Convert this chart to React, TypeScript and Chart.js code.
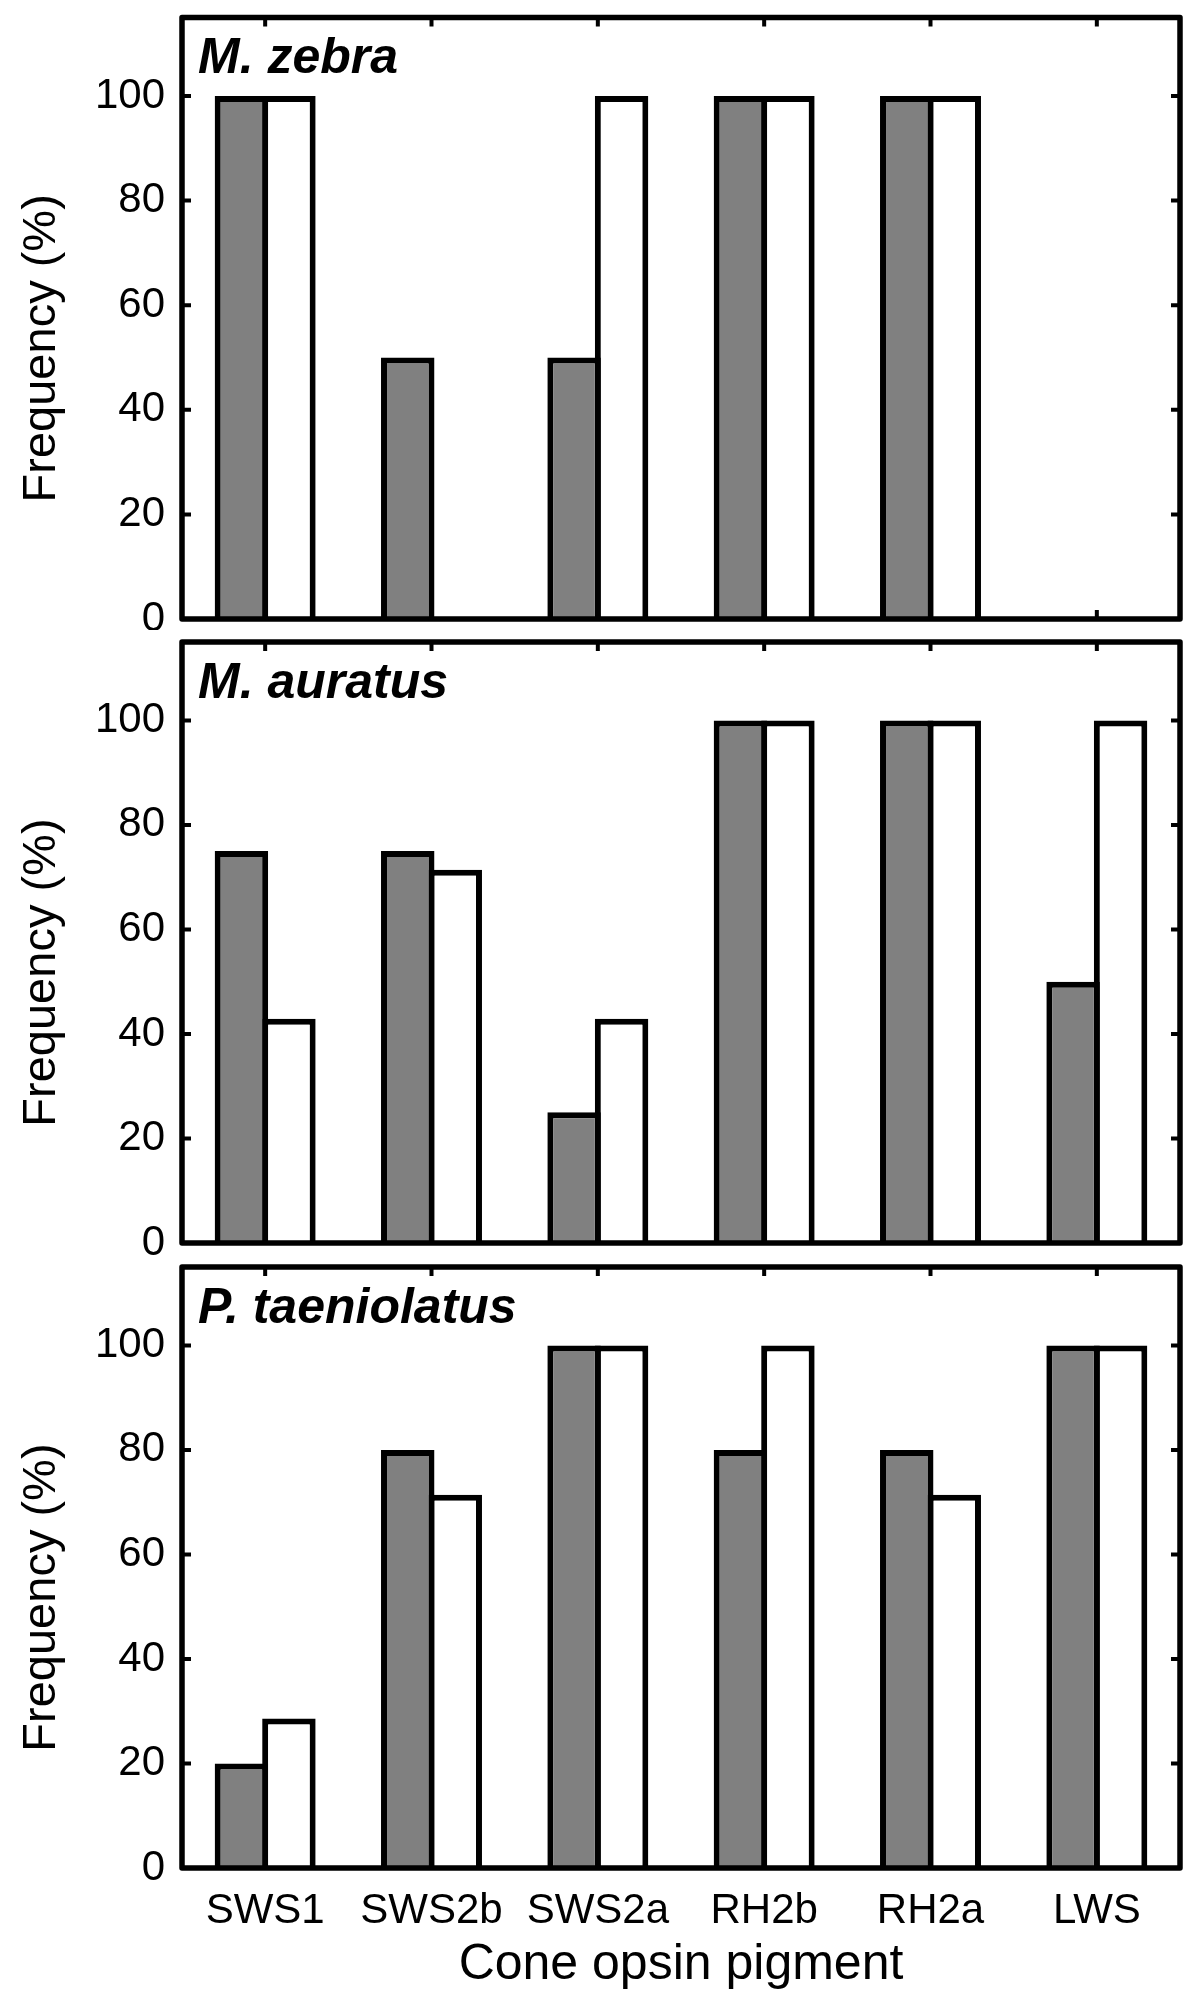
import React, { useEffect, useRef } from 'react';
import { Chart, registerables } from 'chart.js';

Chart.register(...registerables);

const categories = ['SWS1', 'SWS2b', 'SWS2a', 'RH2b', 'RH2a', 'LWS'];
const speciesNames = ['M. zebra', 'M. auratus', 'P. taeniolatus'];
const zebraGray = [100, 50, 50, 100, 100, 0];
const zebraWhite = [100, 0, 100, 100, 100, 0];
const auratusGray = [75, 75, 25, 100, 100, 50];
const auratusWhite = [42.9, 71.4, 42.9, 100, 100, 100];
const taeniolatusGray = [20, 80, 100, 80, 80, 100];
const taeniolatusWhite = [28.6, 71.4, 100, 100, 71.4, 100];
const yTicks = [0, 20, 40, 60, 80, 100];
const yMax = 115;
const yTitle = 'Frequency (%)';
const xTitle = 'Cone opsin pigment';

const FAMILY = "'Liberation Sans', Arial, Helvetica, sans-serif";

type PanelCfg = {
  name: string;
  gray: number[];
  white: number[];
  canvasTop: number;
  canvasHeight: number;
  padTop: number;
  padBottom: number;
  showX: boolean;
};

const panels: PanelCfg[] = [
  { name: speciesNames[0], gray: zebraGray, white: zebraWhite, canvasTop: 0, canvasHeight: 630, padTop: 17.5, padBottom: 11, showX: false },
  { name: speciesNames[1], gray: auratusGray, white: auratusWhite, canvasTop: 630, canvasHeight: 625, padTop: 12, padBottom: 12, showX: false },
  { name: speciesNames[2], gray: taeniolatusGray, white: taeniolatusWhite, canvasTop: 1255, canvasHeight: 750, padTop: 12, padBottom: 0, showX: true },
];

function makeFramePlugin(name: string) {
  return {
    id: 'frame',
    afterDatasetsDraw(chart: any) {
      const { ctx, chartArea } = chart;
      const { left, top, right, bottom } = chartArea;
      const x = chart.scales.x;
      const y = chart.scales.y;
      ctx.save();
      ctx.strokeStyle = '#000';
      ctx.lineCap = 'butt';
      ctx.lineWidth = 4;
      ctx.beginPath();
      for (const v of yTicks) {
        const py = y.getPixelForValue(v);
        ctx.moveTo(left, py);
        ctx.lineTo(left + 9, py);
        ctx.moveTo(right - 9, py);
        ctx.lineTo(right, py);
      }
      for (let i = 0; i < categories.length; i++) {
        const px = x.getPixelForValue(i);
        ctx.moveTo(px, top);
        ctx.lineTo(px, top + 9);
        ctx.moveTo(px, bottom);
        ctx.lineTo(px, bottom - 9);
      }
      ctx.stroke();
      ctx.lineWidth = 5.5;
      ctx.lineJoin = 'round';
      ctx.strokeRect(left, top, right - left, bottom - top);

      ctx.fillStyle = '#000';
      ctx.font = `italic bold 50px ${FAMILY}`;
      ctx.textAlign = 'left';
      ctx.textBaseline = 'alphabetic';
      ctx.fillText(name, left + 16, top + 55.5);

      ctx.translate(55, top + 0.55 * (bottom - top));
      ctx.rotate(-Math.PI / 2);
      ctx.font = `47px ${FAMILY}`;
      ctx.textAlign = 'center';
      ctx.fillText(yTitle, 0, 0);
      ctx.restore();
    },
  };
}

function Panel({ cfg }: { cfg: PanelCfg }) {
  const ref = useRef<HTMLCanvasElement | null>(null);
  useEffect(() => {
    if (!ref.current) return;
    const chart = new Chart(ref.current, {
      type: 'bar',
      data: {
        labels: categories,
        datasets: [
          {
            data: cfg.gray,
            backgroundColor: '#808080',
            borderColor: '#000',
            borderWidth: 6,
            categoryPercentage: 0.571,
            barPercentage: 1.126,
          },
          {
            data: cfg.white,
            backgroundColor: '#ffffff',
            borderColor: '#000',
            borderWidth: 6,
            categoryPercentage: 0.571,
            barPercentage: 1.126,
          },
        ],
      },
      options: {
        animation: false,
        responsive: false,
        devicePixelRatio: 1,
        layout: { padding: { top: cfg.padTop, bottom: cfg.padBottom, left: 0, right: 20 } },
        plugins: {
          legend: { display: false },
          tooltip: { enabled: false },
          title: { display: false },
        },
        scales: {
          x: {
            display: cfg.showX,
            offset: true,
            grid: { display: false, drawTicks: false },
            border: { display: false },
            ticks: {
              padding: 18,
              color: '#000',
              font: { size: 42, family: FAMILY },
              maxRotation: 0,
              autoSkip: false,
            },
            title: {
              display: cfg.showX,
              text: xTitle,
              color: '#000',
              font: { size: 50, family: FAMILY },
              padding: { top: 0, bottom: 10 },
            },
            afterFit: (s: any) => {
              if (cfg.showX) s.height = 137;
              s.paddingLeft = 0;
              s.paddingRight = 0;
            },
          },
          y: {
            min: 0,
            max: yMax,
            grid: { display: false, drawTicks: false },
            border: { display: false },
            ticks: {
              padding: 17,
              color: '#000',
              font: { size: 42, family: FAMILY },
            },
            afterBuildTicks: (s: any) => {
              s.ticks = yTicks.map((v) => ({ value: v }));
            },
            afterFit: (s: any) => {
              s.width = 182;
              s.paddingTop = 0;
              s.paddingBottom = 0;
            },
          },
        },
      },
      plugins: [makeFramePlugin(cfg.name)],
    } as any);
    return () => chart.destroy();
  }, [cfg]);
  return (
    <canvas
      ref={ref}
      width={1200}
      height={cfg.canvasHeight}
      style={{ position: 'absolute', left: 0, top: cfg.canvasTop, width: 1200, height: cfg.canvasHeight }}
    />
  );
}

export default function App() {
  return (
    <div style={{ position: 'absolute', left: 0, top: 0, width: 1200, height: 2005, background: '#fff' }}>
      {panels.map((p) => (
        <Panel key={p.name} cfg={p} />
      ))}
    </div>
  );
}
